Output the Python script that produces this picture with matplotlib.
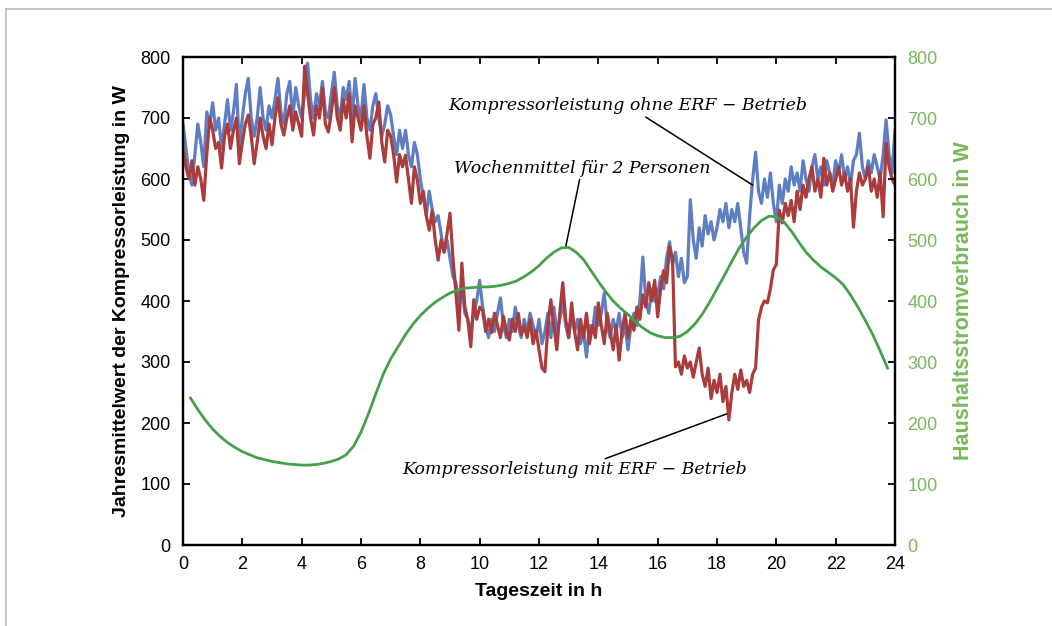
import numpy as np
import matplotlib
matplotlib.use("Agg")
import matplotlib.pyplot as plt
from matplotlib.lines import Line2D

# time axis of the two compressor curves (every 6 min)
hours = np.round(np.arange(0, 24.01, 0.1), 1)

# Kompressorleistung ohne ERF-Betrieb (blue)
p_ohne = [
    690, 650, 610, 590, 640, 690, 660, 620, 710, 690,
    725, 680, 700, 650, 690, 730, 680, 710, 755, 650,
    700, 740, 765, 700, 670, 700, 750, 700, 680, 720,
    700, 730, 765, 710, 690, 740, 760, 700, 750, 720,
    700, 740, 790, 730, 700, 740, 720, 760, 710, 700,
    740, 775, 720, 700, 750, 730, 760, 700, 765, 720,
    700, 755, 700, 680, 720, 740, 700, 670, 690, 720,
    705, 670, 640, 680, 650, 680, 640, 620, 660, 640,
    600, 570, 540, 580, 550, 530, 540, 510, 480, 500,
    470, 440, 430, 400, 420, 380, 370, 350, 380, 400,
    434, 390, 360, 340, 370, 350, 380, 405, 360, 340,
    370, 350, 390, 360, 340, 370, 350, 380, 360, 340,
    370, 330, 350, 380, 340, 390, 350, 370, 400, 360,
    340, 380, 350, 370, 330, 350, 308, 360, 350, 390,
    360, 380, 413, 360, 340, 370, 350, 380, 340, 360,
    320, 360, 380, 360, 400, 472, 400, 380, 420, 400,
    410, 440, 420, 470, 497, 460, 480, 440, 470, 430,
    440, 566, 500, 470, 520, 490, 540, 510, 530, 500,
    520, 550, 530, 560, 520, 550, 530, 560, 520, 480,
    462, 540, 598, 644, 580, 560, 600, 570, 610, 560,
    530, 590, 560, 600, 580, 620, 590, 610, 580, 630,
    600, 580, 620, 640, 600, 620, 590, 630, 610, 590,
    630, 610, 640, 600, 620, 590, 630, 640, 675, 620,
    600, 630, 610, 640, 620, 600, 640, 697, 640, 610,
    680,
]

# Kompressorleistung mit ERF-Betrieb (red)
p_mit = [
    650, 620, 600, 630, 590, 620, 600, 565, 640, 700,
    680, 650, 660, 618, 670, 690, 650, 680, 700, 625,
    660, 690, 705, 670, 625, 660, 700, 670, 650, 690,
    656, 700, 733, 690, 672, 700, 720, 680, 710, 690,
    670, 785, 740, 700, 672, 720, 700, 750, 690, 677,
    710, 750, 700, 680, 730, 700, 740, 661, 720, 700,
    680, 720, 670, 634, 690, 700, 726, 660, 628, 680,
    670, 640, 595, 640, 620, 639, 600, 560, 620, 598,
    560, 580, 540, 516, 548, 500, 467, 500, 480, 510,
    544, 470, 413, 352, 462, 390, 369, 325, 402, 370,
    390, 385, 350, 370, 348, 380, 360, 340, 375, 350,
    336, 370, 350, 380, 345, 360, 340, 370, 330, 352,
    320, 290, 284, 360, 402, 360, 320, 380, 430, 370,
    340, 397, 350, 320, 370, 340, 380, 330, 360, 340,
    397, 360, 330, 380, 350, 320, 360, 303, 350, 380,
    340, 370, 352, 390, 370, 410, 390, 430, 400, 434,
    374, 420, 450, 430, 489, 470, 292, 300, 280, 310,
    290, 300, 275, 300, 323, 280, 260, 290, 240, 270,
    250, 280, 235, 260, 205, 250, 280, 255, 287, 260,
    270, 250, 280, 290, 369, 390, 400, 397, 420, 451,
    460, 549, 528, 560, 540, 565, 530, 580, 550, 590,
    570, 600, 620, 580, 600, 570, 634, 590, 610, 580,
    600, 620, 590, 610, 580, 600, 521, 580, 610, 590,
    600, 620, 580, 600, 570, 610, 538, 659, 620, 600,
    590,
]

# Wochenmittel fuer 2 Personen (green, right axis), every 15 min
hours_haushalt = np.arange(0.25, 23.76, 0.25)
p_haushalt = [
    241, 222, 205, 190, 178, 168, 160, 153, 148, 143,
    140, 137, 135, 133, 132, 131, 131, 132, 134, 137,
    141, 148, 162, 185, 215, 248, 280, 305, 325, 345,
    362, 376, 388, 398, 406, 413, 418, 421, 422, 423,
    423, 424, 426, 429, 433, 440, 448, 458, 470, 480,
    487, 488, 480, 468, 450, 432, 415, 400, 388, 378,
    366, 356, 348, 343, 340, 340, 342, 350, 362, 378,
    398, 420, 442, 465, 487, 505, 520, 532, 539, 538,
    530, 515, 497, 480, 467, 456, 447, 438, 427, 410,
    390, 368, 345, 318, 290,
]

blue = '#5F7DC3'
red = '#AA3C3C'
green_line = '#46A04B'
green_text = '#78B95A'

plt.rcParams['font.family'] = ['Liberation Sans', 'DejaVu Sans']

fig = plt.figure(figsize=(10.52, 6.26), dpi=100)
ax = fig.add_axes([183/1052, 1 - 545/626, (895 - 183)/1052, (545 - 57)/626])
ax2 = ax.twinx()

ax.plot(hours, p_ohne, color=blue, lw=2.3, zorder=2)
ax.plot(hours, p_mit, color=red, lw=2.3, zorder=3)
ax2.plot(hours_haushalt, p_haushalt, color=green_line, lw=2.0)

ax.set_xlim(0, 24)
ax.set_ylim(0, 800)
ax2.set_ylim(0, 800)
ax.set_xticks(np.arange(0, 25, 2))
ax.set_yticks(np.arange(0, 801, 100))
ax2.set_yticks(np.arange(0, 801, 100))

ax.tick_params(axis='x', direction='in', top=True, length=5, width=1.3,
               labelsize=13, pad=8)
ax.tick_params(axis='y', direction='in', length=5, width=1.3,
               labelsize=13, pad=9)
ax2.tick_params(axis='y', direction='in', length=5, width=1.3,
                labelsize=13, pad=9, labelcolor=green_text, color='black')
for a in (ax, ax2):
    for s in a.spines.values():
        s.set_linewidth(1.6)
        s.set_color('black')

ax.set_xlabel('Tageszeit in h', fontsize=14, fontweight='bold', labelpad=7)
ax.set_ylabel('Jahresmittelwert der Kompressorleistung in W', fontsize=14,
              fontweight='bold', labelpad=7)
ax2.set_ylabel('Haushaltsstromverbrauch in W', fontsize=15.5,
               fontweight='bold', color=green_text, labelpad=11)

txt = dict(fontsize=12.5, fontstyle='italic', family=['DejaVu Serif'],
           ha='center', va='center')
line = dict(arrowstyle='-', color='black', lw=1.1, shrinkA=0, shrinkB=0)
ax.annotate('Kompressorleistung ohne ERF − Betrieb', xy=(19.2, 590),
            xytext=(15.0, 720), arrowprops=line, **txt)
ax.annotate('Wochenmittel für 2 Personen', xy=(12.9, 489),
            xytext=(13.45, 618), arrowprops=line, **txt)
ax.annotate('Kompressorleistung mit ERF − Betrieb', xy=(18.33, 215),
            xytext=(13.2, 123), arrowprops=line, **txt)

# grey page frame (top and left)
fig.add_artist(Line2D([6/1052, 1], [1 - 9/626, 1 - 9/626], color='#BBBBBB', lw=1.2))
fig.add_artist(Line2D([6/1052, 6/1052], [0, 1 - 9/626], color='#BBBBBB', lw=1.2))

fig.savefig('out.png', dpi=100)
